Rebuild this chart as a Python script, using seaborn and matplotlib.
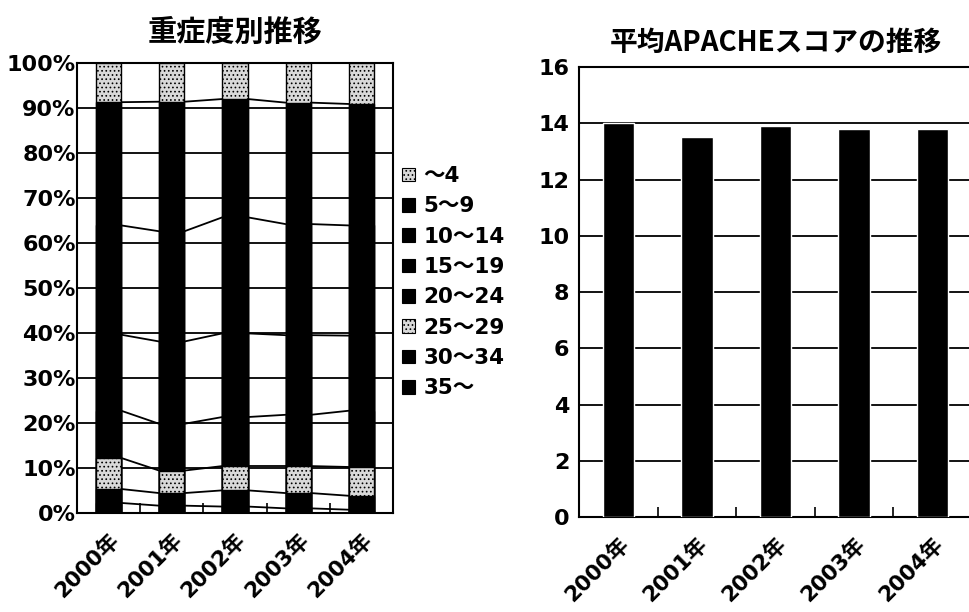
import numpy as np
import pandas as pd
import matplotlib
matplotlib.use("Agg")
import matplotlib.pyplot as plt
import matplotlib.ticker as mticker
from matplotlib.patches import Patch
import seaborn as sns

years = ["2000年", "2001年", "2002年", "2003年", "2004年"]

# 重症度別 share (%), listed from the bottom of the stack upwards
sev_labels = ["35～", "30～34", "25～29", "20～24", "15～19", "10～14", "5～9", "～4"]
sev_35 = [2.2, 1.6, 1.4, 1.0, 0.7]
sev_30_34 = [3.1, 2.8, 3.6, 3.4, 3.1]
sev_25_29 = [6.9, 5.0, 5.4, 6.0, 6.4]
sev_20_24 = [10.5, 10.4, 10.9, 11.4, 12.5]
sev_15_19 = [16.9, 18.3, 18.6, 17.7, 16.7]
sev_10_14 = [24.3, 24.5, 25.8, 24.7, 24.5]
sev_5_9 = [27.4, 28.8, 26.3, 27.0, 27.0]
sev_4 = [8.7, 8.6, 8.0, 8.8, 9.1]

# 平均APACHEスコア
apache_mean = [14.0, 13.5, 13.9, 13.8, 13.8]

sns.set_style("white")
plt.rcParams["font.family"] = ["DejaVu Sans", "Noto Sans CJK JP"]
plt.rcParams["font.weight"] = "bold"
plt.rcParams["hatch.linewidth"] = 0.7
plt.rcParams["axes.edgecolor"] = "black"
plt.rcParams["axes.linewidth"] = 1.5
for key in ["text.color", "xtick.color", "ytick.color", "axes.labelcolor"]:
    plt.rcParams[key] = "black"

series = [sev_35, sev_30_34, sev_25_29, sev_20_24, sev_15_19, sev_10_14, sev_5_9, sev_4]
dotted = {"25～29", "～4"}
bar_w = 0.4


def fill_style(label):
    if label in dotted:
        return dict(color="#d9d9d9", hatch="....")
    return dict(color="black", hatch=None)


fig = plt.figure(figsize=(9.69, 6.12), dpi=100)
ax1 = fig.add_axes([0.0795, 0.162, 0.326, 0.735])
ax2 = fig.add_axes([0.5975, 0.155, 0.4056, 0.7353])

# --- left: 100% stacked bars, drawn as overlaid cumulative bars
cum = np.cumsum(np.array(series), axis=0)
for k in reversed(range(len(series))):
    df = pd.DataFrame({"year": years, "top": cum[k]})
    st = fill_style(sev_labels[k])
    sns.barplot(data=df, x="year", y="top", ax=ax1, color=st["color"],
                hatch=st["hatch"], saturation=1, width=bar_w,
                edgecolor="black", linewidth=1, errorbar=None, zorder=3)

# series lines between the bars
for k in range(len(series) - 1):
    for i in range(len(years) - 1):
        ax1.plot([i + bar_w / 2, i + 1 - bar_w / 2], [cum[k][i], cum[k][i + 1]],
                 color="black", lw=1.3, zorder=4)

ax1.set_xlim(-0.5, len(years) - 0.5)
ax1.set_ylim(0, 100)
ax1.set_yticks(range(0, 101, 10))
ax1.yaxis.set_major_formatter(mticker.PercentFormatter(decimals=0))
ax1.yaxis.grid(True, color="black", lw=1.3)
ax1.set_axisbelow(True)
ax1.set_title("重症度別推移", fontsize=21, fontweight="bold", pad=16,
              family=["Noto Sans CJK JP"])

handles = []
for lab in reversed(sev_labels):
    st = fill_style(lab)
    handles.append(Patch(facecolor=st["color"], hatch=st["hatch"],
                         edgecolor="black", linewidth=0.8, label=lab))
fig.legend(handles=handles, loc="upper left",
           bbox_to_anchor=(402 / 969, 1 - 166 / 612), frameon=False,
           fontsize=15.5, handlelength=0.6, handleheight=0.6,
           handletextpad=0.4, labelspacing=0.48, borderpad=0, borderaxespad=0)

# --- right: mean APACHE score
df2 = pd.DataFrame({"year": years, "score": apache_mean})
sns.barplot(data=df2, x="year", y="score", ax=ax2, color="black",
            saturation=1, width=bar_w, errorbar=None, zorder=3)
ax2.set_xlim(-0.5, len(years) - 0.5)
ax2.set_ylim(0, 16)
ax2.set_yticks(range(0, 17, 2))
ax2.yaxis.grid(True, color="black", lw=1.3)
ax2.set_axisbelow(True)
ax2.set_title("平均APACHEスコアの推移", fontsize=20, fontweight="bold", pad=12,
              family=["Noto Sans CJK JP"])

for ax, ypad, ysize in [(ax1, 1, 16), (ax2, 7, 16)]:
    ax.set_xlabel("")
    ax.set_ylabel("")
    ax.set_xticks(range(len(years)), years, rotation=45, ha="right",
                  rotation_mode="anchor")
    ax.set_xticks(np.arange(0.5, len(years) - 1, 1.0), minor=True)
    ax.tick_params(axis="x", which="major", length=0, pad=12, labelsize=15.5)
    ax.tick_params(axis="x", which="minor", direction="in", length=7,
                   width=1.2, color="black", bottom=True)
    ax.tick_params(axis="y", length=0, pad=ypad, labelsize=ysize)
    for sp in ax.spines.values():
        sp.set_visible(True)
        sp.set_color("black")
        sp.set_linewidth(1.5)

fig.savefig("out.png", dpi=100)
